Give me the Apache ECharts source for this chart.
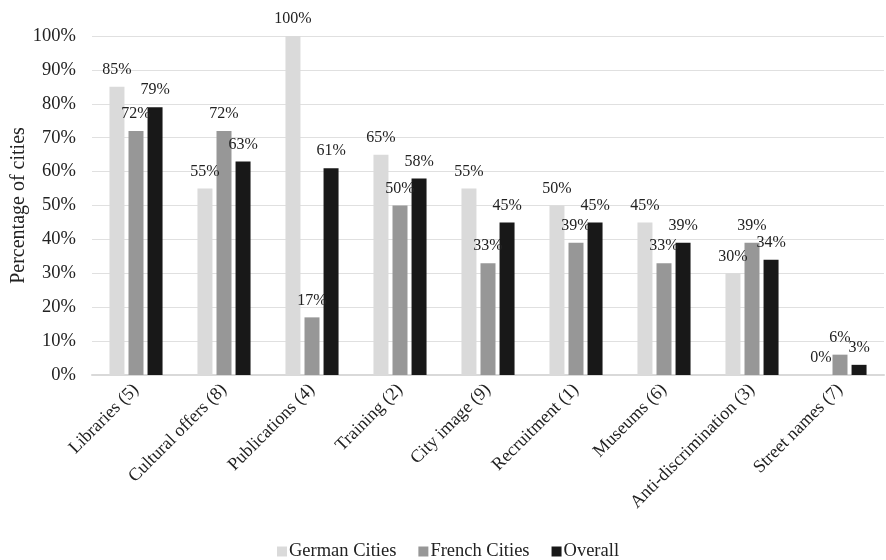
<!DOCTYPE html>
<html>
<head>
<meta charset="utf-8">
<script src="https://cdn.jsdelivr.net/npm/echarts@6/dist/echarts.min.js"></script>
<style>
  html, body { margin: 0; padding: 0; background: #fff; }
  #chart { width: 886px; height: 560px; }
</style>
</head>
<body>
<div id="chart"></div>
<script>
// Share of cities per measure type, by country
const categories = [
  'Libraries (5)', 'Cultural offers (8)', 'Publications (4)', 'Training (2)',
  'City image (9)', 'Recruitment (1)', 'Museums (6)', 'Anti-discrimination (3)', 'Street names (7)'
];
const germanCities = [85, 55, 100, 65, 55, 50, 45, 30, 0];
const frenchCities = [72, 72, 17, 50, 33, 39, 33, 39, 6];
const overall      = [79, 63, 61, 58, 45, 45, 39, 34, 3];
const yTicks = [0, 10, 20, 30, 40, 50, 60, 70, 80, 90, 100];

const FONT = '"Liberation Serif", "DejaVu Serif", serif';

function barSeries(name, data, color) {
  return {
    name: name,
    type: 'bar',
    data: data,
    barWidth: 15,
    barGap: '27%',
    itemStyle: { color: color },
    label: {
      show: true,
      position: 'top',
      distance: 9,
      formatter: p => p.value + '%',
      fontFamily: FONT,
      fontSize: 16,
      color: '#222'
    }
  };
}

const chart = echarts.init(document.getElementById('chart'), null, { renderer: 'canvas' });
chart.setOption({
  backgroundColor: '#fff',
  animation: false,
  textStyle: { fontFamily: FONT },
  grid: {
    left: 92, right: 2, top: 36, bottom: 185,
    containLabel: false,
    outerBoundsMode: 'none'
  },
  legend: {
    top: 542,
    left: 277,
    itemWidth: 10,
    itemHeight: 10,
    itemGap: 22,
    icon: 'rect',
    padding: 0,
    textStyle: { fontFamily: FONT, fontSize: 18.5, color: '#222', padding: [0, 0, 0, -3] },
    data: ['German Cities', 'French Cities', 'Overall']
  },
  xAxis: {
    type: 'category',
    data: categories,
    axisLine: { lineStyle: { color: '#d9d9d9', width: 2 } },
    axisTick: { show: false },
    axisLabel: {
      rotate: 45,
      interval: 0,
      margin: 12,
      fontFamily: FONT,
      fontSize: 18,
      color: '#222'
    }
  },
  yAxis: {
    type: 'value',
    min: yTicks[0],
    max: yTicks[yTicks.length - 1],
    interval: 10,
    name: 'Percentage of cities',
    nameLocation: 'middle',
    nameGap: 63,
    nameRotate: 90,
    nameMoveOverlap: false,
    nameTextStyle: { fontFamily: FONT, fontSize: 20, color: '#222' },
    axisLine: { show: false },
    axisTick: { show: false },
    axisLabel: {
      formatter: v => v + '%',
      margin: 16,
      fontFamily: FONT,
      fontSize: 18.5,
      color: '#222'
    },
    splitLine: { lineStyle: { color: '#e0e0e0', width: 1 } }
  },
  series: [
    barSeries('German Cities', germanCities, '#dadada'),
    barSeries('French Cities', frenchCities, '#979797'),
    barSeries('Overall', overall, '#181818')
  ]
});
</script>
</body>
</html>
